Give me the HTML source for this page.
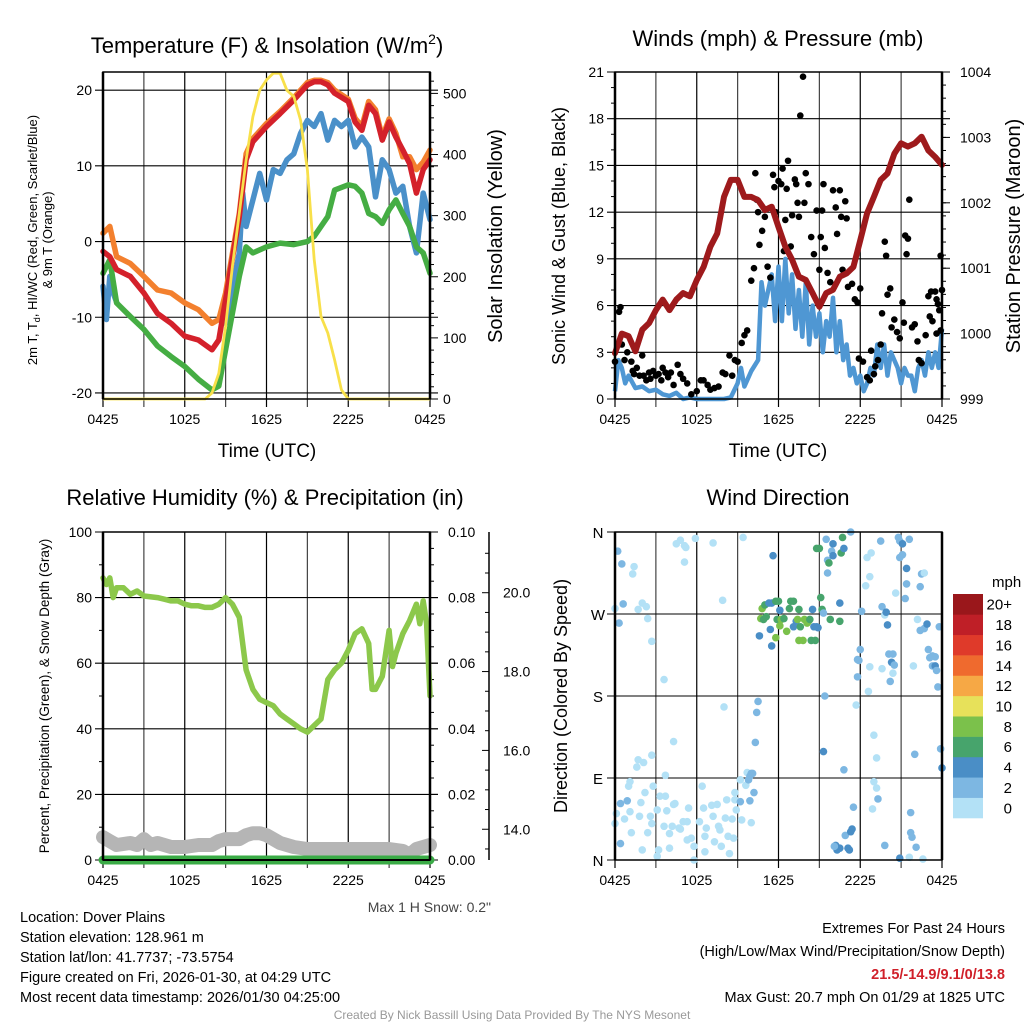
<!DOCTYPE html>
<html><head><meta charset="utf-8"><style>
html,body{margin:0;padding:0;background:#fff;}
svg{display:block;font-family:"Liberation Sans",Arial,sans-serif;}
</style></head><body>
<svg id="chart" width="1024" height="1024" viewBox="0 0 1024 1024" xmlns="http://www.w3.org/2000/svg">
<rect width="1024" height="1024" fill="#fff"/>
<g id="g1"></g>
<g id="g2"></g>
<g id="g3"></g>
<g id="g4"></g>
<text x="267" y="53" font-size="22" text-anchor="middle">Temperature (F) &amp; Insolation (W/m<tspan font-size="14" dy="-9">2</tspan><tspan dy="9">)</tspan></text>
<text x="778" y="46" font-size="22" text-anchor="middle">Winds (mph) &amp; Pressure (mb)</text>
<text x="265" y="505" font-size="22" text-anchor="middle">Relative Humidity (%) &amp; Precipitation (in)</text>
<text x="778" y="505" font-size="22" text-anchor="middle">Wind Direction</text>
<text x="267" y="457" font-size="19" text-anchor="middle">Time (UTC)</text>
<text x="778" y="457" font-size="19" text-anchor="middle">Time (UTC)</text>
<text transform="translate(37,240) rotate(-90)" font-size="13" text-anchor="middle">2m T, T<tspan font-size="9" dy="3">d</tspan><tspan dy="-3">, HI/WC (Red, Green, Scarlet/Blue)</tspan></text>
<text transform="translate(52,240) rotate(-90)" font-size="13" text-anchor="middle">&amp; 9m T (Orange)</text>
<text transform="translate(502,236) rotate(-90)" font-size="20" text-anchor="middle">Solar Insolation (Yellow)</text>
<text transform="translate(565,236) rotate(-90)" font-size="18" text-anchor="middle">Sonic Wind &amp; Gust (Blue, Black)</text>
<text transform="translate(1020,236) rotate(-90)" font-size="20" text-anchor="middle">Station Pressure (Maroon)</text>
<text transform="translate(49,696) rotate(-90)" font-size="13.5" text-anchor="middle">Percent, Precipitation (Green), &amp; Snow Depth (Gray)</text>
<text transform="translate(567,696) rotate(-90)" font-size="18" text-anchor="middle">Direction (Colored By Speed)</text>
<text x="491" y="912" font-size="14" fill="#444" text-anchor="end">Max 1 H Snow: 0.2"</text>
<g font-size="14.5">
<text x="20" y="922">Location: Dover Plains</text>
<text x="20" y="942">Station elevation: 128.961 m</text>
<text x="20" y="962">Station lat/lon: 41.7737; -73.5754</text>
<text x="20" y="982">Figure created on Fri, 2026-01-30, at 04:29 UTC</text>
<text x="20" y="1002">Most recent data timestamp: 2026/01/30 04:25:00</text>
</g>
<g font-size="14.5" text-anchor="end">
<text x="1005" y="933">Extremes For Past 24 Hours</text>
<text x="1005" y="956">(High/Low/Max Wind/Precipitation/Snow Depth)</text>
<text x="1005" y="979" fill="#d0202a" font-weight="bold">21.5/-14.9/9.1/0/13.8</text>
<text x="1005" y="1002">Max Gust: 20.7 mph On 01/29 at 1825 UTC</text>
</g>
<text x="512" y="1019" font-size="12" fill="#999" text-anchor="middle">Created By Nick Bassill Using Data Provided By The NYS Mesonet</text>
</svg>
<script>
// ---- data ----
const xTickLabels = ["0425","1025","1625","2225","0425"];
const tempT = [0,0.5,1,2,3,4,5,6,7,8,8.5,9,10,10.5,11,12,13,14,15,15.5,16,16.5,17,18,18.5,19,19.5,20,20.5,21,21.5,22,22.5,23,23.5,24];
const tempRed = [-1.3,-2,-3.7,-4.6,-6.8,-9.5,-10.8,-12.5,-13,-14.3,-13,-7.7,3.3,10.8,13.2,15.2,16.9,18.7,20.7,21.1,21.1,20.7,19.6,18.5,15.8,14.7,18,16.9,13.4,15.8,13.8,12.1,10.3,6.4,9.5,10.8];
const tempOrange = [1.1,2,-2,-2.9,-4.6,-6.4,-6.8,-8.1,-9,-10.8,-10.3,-6.8,3.7,11.6,13.6,15.6,17.2,19,21,21.3,21.3,21,20,18.8,16.3,15.2,18.5,17.4,13.8,16.2,14.3,11.2,11.2,9.5,10.5,12.1];
const dewGreen = [-4.2,-2.4,-8.1,-9.9,-11.6,-13.8,-15.2,-16.5,-18.2,-19.6,-19.1,-14.3,-4.6,-0.7,-1.5,-0.7,-0.2,-0.4,0,0.7,2,3.3,6.8,7.5,7.3,6.4,3.7,3.3,2.4,4.2,5.5,3.7,2,-0.7,-1.5,-4.2];
const wcT = [0,0.25,0.5,0.75,1,5,9,10,10.25,10.5,11,11.5,12,12.5,13,13.5,14,14.5,15,15.5,16,16.5,17,17.5,18,18.5,19,19.5,20,20.5,21,21.5,22,22.5,23,23.5,24];
const wcBlue = [-5.9,-10.3,-4.6,-6.8,-8,null,-10.8,-1.5,6.4,2,5.5,9,5.5,9.5,9,10.8,11.6,14.3,16,15.2,16.9,13.4,16,15.2,16,12.5,13.8,12.5,5.9,10.8,9.5,6.4,7.3,2,-1.5,6.4,2.9];
const solarT = [0,7.5,8,8.5,9,9.5,10,10.5,11,11.5,12,12.5,13,13.5,14,14.5,15,15.5,16,16.5,17,17.5,18,24];
const solarVals = [0,0,10,42,119,217,304,391,462,505,522,533,533,505,495,456,375,228,135,108,64,15,0,0];
const tempTicks = [-20,-10,0,10,20];
const solarTicks = [0,100,200,300,400,500];

const presT = [0,0.5,1,1.5,2,2.5,3,3.5,4,4.5,5,5.5,6,6.5,7,7.5,8,8.5,9,9.5,10,10.5,11,11.5,12,12.5,13,13.5,14,14.5,15,15.5,16,16.5,17,17.5,18,18.5,19,19.5,20,20.5,21,21.5,22,22.5,23,23.5,24];
const presVals = [999.70,1000.0,999.96,999.73,1000.06,1000.16,1000.36,1000.52,1000.36,1000.52,1000.62,1000.57,1000.82,1001.02,1001.33,1001.53,1002.09,1002.35,1002.35,1002.09,1002.09,1002.04,1001.89,1001.94,1001.63,1001.33,1001.13,1000.87,1000.82,1000.62,1000.41,1000.62,1000.67,1000.87,1000.92,1001.02,1001.43,1001.84,1002.09,1002.35,1002.45,1002.75,1002.91,1002.86,1002.91,1003.01,1002.80,1002.70,1002.58];
const windT = [0,0.25,0.5,0.75,1,1.5,2,2.5,3,3.5,4,4.5,5,5.5,6,6.5,7,7.5,8,8.5,9,9.25,9.5,10,10.5,10.75,11,11.5,11.75,12,12.25,12.5,12.75,13,13.25,13.5,13.75,14,14.25,14.5,14.75,15,15.25,15.5,15.75,16,16.25,16.5,16.75,17,17.25,17.5,17.75,18,18.25,18.5,18.75,19,19.25,19.5,19.75,20,20.25,20.5,20.75,21,21.25,21.5,21.75,22,22.25,22.5,22.75,23,23.25,23.5,23.75,24];
const windVals = [0.5,2.5,2,1,1.5,0.7,0.8,0.5,0.6,0.3,0.2,0.4,0,0.1,0,0,0,0,0,0.1,1,2,0.8,1.8,2.5,7.5,6,8,5,8.5,5,9,5.5,8,4.5,7,4,7.5,3.5,6,4,5.5,3,5,4,6.5,3,5,2.5,3.5,1.5,2,1,1.5,0.5,1,2,1.5,3.5,2,3.5,1.5,3,2.5,2,1,2,1.5,1.5,0.5,2,2.5,1.5,3,2,3,2,4.5];
const gustT = [0,0.3,0.4,0.5,0.7,0.9,1.2,1.3,1.4,1.6,1.8,2,2.1,2.3,2.5,2.6,2.8,3,3.2,3.4,3.5,3.7,3.9,4.1,4.3,4.6,4.8,5,5.3,5.6,6,6.3,6.5,6.8,7,7.3,7.6,7.9,8.1,8.4,8.6,8.8,9,9.3,9.5,9.7,10,10.2,10.3,10.4,10.5,10.6,10.8,11,11.2,11.4,11.6,11.7,11.8,12,12.2,12.3,12.4,12.5,12.6,12.7,12.9,13,13.2,13.3,13.4,13.5,13.6,13.8,13.9,14,14.2,14.4,14.6,14.8,15,15.1,15.2,15.3,15.4,15.6,15.8,16,16.2,16.3,16.5,16.6,16.7,16.9,17,17.1,17.4,17.6,17.8,18,17.9,18.2,18.5,18.7,18.8,19,19.1,19.3,19.5,19.6,19.8,19.9,20,20.2,20.3,20.5,20.7,20.9,21.1,21.2,21.3,21.4,21.5,21.6,21.8,22,22.2,22.3,22.5,22.8,23,23.1,23.2,23.3,23.5,23.6,23.7,23.8,23.9,24,23.6,23.9];
const gustVals = [2.4,5.6,5.9,3.5,2.5,3,2.4,1.8,1.6,2,1.5,2.8,1.5,1.2,1.7,1.3,1.8,1.5,1.6,1.2,2,1.7,1.4,1.7,0.9,2.2,1.6,1.3,1,0.3,0.5,1.2,1.2,0.9,0.6,0.7,0.8,1.7,1.6,2.8,1.5,2.5,2.4,3.6,4.1,4.4,7.6,8.4,14.5,12.8,12,9.9,10.8,11.7,8.5,7.8,14.4,13.6,12,14,13.8,14.8,9.5,11.5,13.5,15.3,9.8,11.8,14.1,13.8,12.6,11.7,18.2,20.7,12.6,14.5,13.8,10.4,9.3,12.1,8.3,10.4,12.1,13.8,9.7,8.1,7.5,13.4,12.3,10.6,13.4,11.7,8.3,12.7,11.6,7.2,7.4,6.4,6.2,7.1,2.6,2.4,1.4,1.2,3.1,1.6,2.1,2.5,3.5,5.5,10.1,9.2,6.7,7.1,4.6,5.1,4.3,3.9,6.2,4.9,10.5,9.3,10.3,12.8,4.6,4.8,3.7,2.5,2.3,4.1,6.6,5.3,6.9,5,6.9,6.4,6.1,5.7,9.2,7,4.2,4.4];
const windTicks = [0,3,6,9,12,15,18,21];
const presTicks = [999,1000,1001,1002,1003,1004];

const rhT = [0,0.25,0.5,0.75,1,1.5,2,2.5,3,4,4.5,5,5.5,6,6.5,7,7.5,8,8.5,9,9.5,10,10.5,11,11.5,12,12.5,13,13.5,14,14.5,15,15.5,16,16.5,17,17.5,18,18.5,19,19.5,19.75,20,20.5,21,21.25,21.5,22,22.5,23,23.25,23.5,23.75,24];
const rhVals = [86,84,86,80,83,83,81,82,80.5,80,79.5,79,79,78,77.5,77.5,77,77,78,80,78,74,58,52,49,48,47,44.5,43,41.5,40,39,41,43,55,58,60,64,69,70.5,66,52,52,56,70,59,63,69,73,78,72,79,72,50];
const snowT = [0,0.5,1,2,2.5,3,3.5,4,5,6,7,8,8.5,9,10,10.5,11,11.5,12,13,14,15,21,22,22.5,23,24];
const snowVals = [13.8,13.7,13.6,13.65,13.6,13.75,13.6,13.65,13.55,13.55,13.6,13.6,13.7,13.75,13.75,13.85,13.9,13.9,13.85,13.65,13.55,13.5,13.5,13.45,13.35,13.5,13.6];
const precipT = [0,24];
const precipVals = [0,0];
const rhTicks = [0,20,40,60,80,100];
const precipTicks = ["0.00","0.02","0.04","0.06","0.08","0.10"];
const snowTicks = [14,16,18,20];

const dirT = [0.1,0,0.4,0.4,0.9,0.7,1.1,1,1.1,1.2,1.8,1.9,2,2.2,2.4,2.6,2.7,2.8,3.1,3.2,3.1,3.3,3.6,3.7,3.8,4,4,4.3,4.4,4.2,4.7,4.8,5,5.3,5.4,5.3,5.6,5.8,5.8,6.2,6.4,6.5,6.6,6.7,6.6,7.1,7.2,7.3,7.5,7.6,7.7,7.8,8.1,8.2,8.3,8.4,8.6,8.7,8.8,8.8,8.9,9.2,9.3,9.6,9.7,9.9,10,10,1.7,1.6,2.1,2.7,3.7,4.3,8,3.6,2.7,2.4,1.7,2,2.3,0,0.3,0.6,0.5,0.2,1.3,1.4,4.5,4.8,5.1,5.2,5.1,5.9,7.2,7.9,9.4,9.2,9.9,10.2,
10.6,10.5,10.4,10.3,10.1,9.8,11.6,10.8,11,11.3,11.5,11.8,12,12.1,10.7,10.9,11.1,11.4,11.5,11.8,11.9,12.1,12.2,12.4,12.6,12.8,12.9,13.1,13.1,13.3,13.4,13.5,13.6,13.5,13.8,13.9,14.1,14.2,14.3,14.4,14.5,14.6,14.7,14.8,14.9,15.1,15.2,15.3,15.8,16.5,16.5,14.8,15,15.5,15.6,15.7,15.9,16,16,16.6,16.7,16.8,17.3,15.6,15.4,15.3,16.8,17.5,16.9,17.1,17.2,17.3,17.4,16.2,16.3,16.5,16.1,17.7,17.8,17.8,17.9,18,18.1,18.4,18.7,18.5,18.8,18.7,18.6,19,19.2,19,19.2,19.3,18.9,19.5,19.6,19.8,19.9,20,20.1,20.3,20.4,20.5,20.4,20.2,19.6,19.8,20.6,20.8,20.9,21.1,21.1,20.9,21.4,21.4,21.3,21.6,20.9,21.6,21.7,21.7,21.8,22.1,22.6,22.2,22.4,22.7,22.9,22.5,22.7,22.4,21.9,22,23,23.1,23.3,23.3,23.5,23.6,23.5,23.7,23.8,23.9,24];
const dirDeg = [51,40,62,18,65,45,53,81,86,30,48,63,11,74,30,48,40,81,55,11,4,70,37,70,54,29,13,61,62,37,35,34,42,42,57,22,24,0,15,42,81,57,26,35,9,60,48,20,61,37,33,15,46,66,26,7,45,24,74,66,55,88,44,82,96,92,41,95,110,102,107,115,93,130,168,198,240,265,275,282,278,276,260,281,325,339,314,322,347,351,345,343,327,353,348,285,354,64,65,74,
246,174,162,129,95,88,334,276,280,282,282,284,284,274,265,264,267,253,235,244,264,257,264,265,251,276,284,284,256,262,264,275,256,241,241,264,260,262,264,241,275,256,241,256,255,288,275,271,264,262,282,342,342,352,329,326,339,347,334,337,354,342,360,315,180,119,99,58,27,13,11,31,34,16,11,13,15,170,201,220,219,231,273,301,311,332,337,212,185,137,112,86,79,67,56,350,278,269,272,258,226,217,226,214,205,196,210,16,293,354,350,347,335,332,320,303,287,352,2,3,52,30,25,14,1,264,252,254,259,314,315,300,213,116,231,222,224,213,213,208,223,190,256,122,101];
const dirSpd = [1,1,3,3,3,1,1,1,1,1,1,1,1,1,1,1,1,1,1,1,1,1,1,1,1,1,1,1,1,1,1,1,1,1,1,1,1,1,1,1,1,1,1,1,1,1,1,1,1,1,1,1,1,1,1,1,1,1,1,1,1,1,1,1,1,3,1,3,1,1,1,1,1,1,1,1,1,1,1,1,1,1,3,3,3,3,1,1,1,1,1,1,1,1,1,1,1,3,3,3,
4,3,3,3,3,3,5,8,7,5,5,7,6,4,8,7,7,5,5,9,6,8,9,6,9,7,6,6,4,4,9,7,6,8,8,8,9,8,7,6,5,5,7,4,5,6,6,3,6,6,5,6,7,3,3,6,3,4,4,6,7,4,2,2,2,4,3,3,3,4,4,4,4,4,4,4,3,1,3,2,3,3,2,1,1,1,1,1,1,1,1,1,1,3,1,2,3,1,4,4,2,4,2,3,1,2,1,3,1,2,2,4,2,2,4,3,3,2,4,1,3,3,2,3,1,1,2,2,4,2,1,2,1,3,3,3,2,3,4,3,3,3,3,3,4];
const speedBins = ["0","2","4","6","8","10","12","14","16","18","20+"];
const speedColors = ["#b3e1f6","#7db7e2","#4a8ec6","#47a46c","#7bc14b","#e7e15a","#f6a845","#ef6a2e","#df3a2a","#bf1f27","#9a171b"];
const dirLabels = ["N","E","S","W","N"];

// ---- helpers ----
const NS="http://www.w3.org/2000/svg";
function mk(parent,tag,attrs){const e=document.createElementNS(NS,tag);for(const k in attrs)e.setAttribute(k,attrs[k]);parent.appendChild(e);return e;}
function makeX(x0,x1){return t=>x0+(x1-x0)*t/24;}
function makeY(y0,y1,vTop,vBot){return v=>y0+(y1-y0)*(vTop-v)/(vTop-vBot);}
function pathD(ts,vs,xf,yf){let d="",pen=false;for(let i=0;i<ts.length;i++){if(vs[i]===null||vs[i]===undefined){pen=false;continue;}d+=(pen?"L":"M")+xf(ts[i]).toFixed(1)+","+yf(vs[i]).toFixed(1);pen=true;}return d;}
function frame(g,x0,x1,y0,y1,xf){
  for(let i=0;i<=8;i++){const x=xf(i*3);
    const l=mk(g,"line",{x1:x,x2:x,y1:y0,y2:y1+8,stroke:i%2?"#444":"#000","stroke-width":1.2});
    
    
  }
  xTickLabels.forEach((s,i)=>{const t=mk(g,"text",{x:xf(i*6),y:y1+25,"font-size":14,"text-anchor":"middle"});t.textContent=s;
    
    });
}
function border(g,x0,x1,y0,y1){
  const r=mk(g,"rect",{x:x0,y:y0,width:x1-x0,height:y1-y0,fill:"none",stroke:"#000","stroke-width":1.5});
  
  
  mk(g,"line",{x1:x0,x2:x0,y1:y0,y2:y1,stroke:"#000","stroke-width":2.5});
  mk(g,"line",{x1:x1,x2:x1,y1:y0,y2:y1,stroke:"#000","stroke-width":2.5});
}
function hgrid(g,x0,x1,y,labelL,labelR,name){
  const l=mk(g,"line",{x1:x0-8,x2:x1+8,y1:y,y2:y,stroke:"#000","stroke-width":1.1});
  
  
  if(labelL!==null){const t=mk(g,"text",{x:x0-11,y:y+5,"font-size":14,"text-anchor":"end"});t.textContent=labelL;
    
    }
}
function rlabel(g,x,y,s,fs){const t=mk(g,"text",{x:x,y:y+5,"font-size":fs||14});t.textContent=s;
  
  }
function rtick(g,x,y,len){mk(g,"line",{x1:x,x2:x+len,y1:y,y2:y,stroke:"#000","stroke-width":1});}

// ---- panel 1 ----
(function(){
  const g=document.getElementById("g1"),x0=103,x1=430,y0=72,y1=399;
  const xf=makeX(x0,x1), yT=makeY(y0,y1,22.4,-20.8), yS=makeY(y0,y1,535,0);
  frame(g,x0,x1,y0,y1,xf);
  tempTicks.forEach(v=>hgrid(g,x0,x1,yT(v),String(v),null,'temp-gridline'));
  solarTicks.forEach(v=>{rtick(g,x1,yS(v),8);rlabel(g,x1+13,yS(v),String(v));});
  for(let v=20;v<=520;v+=20){if(v%100)rtick(g,x1,yS(v),4);}
  const series=[[wcT,wcBlue,"#4a90c9",'wind-chill-line'],[tempT,dewGreen,"#45ad43",'dewpoint-line'],[tempT,tempOrange,"#f3802e",'temp-9m-line'],[tempT,tempRed,"#d4212b",'temp-2m-line']];
  series.forEach(s=>{const p=mk(g,"path",{d:pathD(s[0],s[1],xf,yT),fill:"none",stroke:s[2],"stroke-width":5.5,"stroke-linejoin":"round","stroke-linecap":"round"});
    
    });
  const sp=mk(g,"path",{d:pathD(solarT,solarVals,xf,yS),fill:"none",stroke:"#f8e04a","stroke-width":2.8,"stroke-linejoin":"round"});
  
  
  border(g,x0,x1,y0,y1);
})();

// ---- panel 2 ----
(function(){
  const g=document.getElementById("g2"),x0=615,x1=942,y0=72,y1=399;
  const xf=makeX(x0,x1), yW=makeY(y0,y1,21,0), yP=makeY(y0,y1,1004,999);
  frame(g,x0,x1,y0,y1,xf);
  windTicks.forEach(v=>hgrid(g,x0,x1,yW(v),String(v),null,'wind-gridline'));
  for(let v=1;v<21;v++){if(v%3)mk(g,"line",{x1:x0-4,x2:x0,y1:yW(v),y2:yW(v),stroke:"#000"});}
  presTicks.forEach(v=>{rtick(g,x1,yP(v),8);rlabel(g,x1+18,yP(v),String(v));});
  for(let v=999.2;v<1004;v+=0.2){rtick(g,x1,yP(v),4);}
  const wp=mk(g,"path",{d:pathD(windT,windVals,xf,yW),fill:"none",stroke:"#4f97d3","stroke-width":4.5,"stroke-linejoin":"round"});
  
  
  gustT.forEach((t,i)=>{const c=mk(g,"circle",{cx:xf(t),cy:yW(gustVals[i]),r:3.3,fill:"#000"});
    
    });
  const pp=mk(g,"path",{d:pathD(presT,presVals,xf,yP),fill:"none",stroke:"#9e1a1c","stroke-width":6,"stroke-linejoin":"round","stroke-linecap":"round"});
  
  
  border(g,x0,x1,y0,y1);
})();

// ---- panel 3 ----
(function(){
  const g=document.getElementById("g3"),x0=103,x1=430,y0=532,y1=860;
  const xf=makeX(x0,x1), yR=makeY(y0,y1,100,0), ySn=makeY(y0,y1,21.54,13.22);
  frame(g,x0,x1,y0,y1,xf);
  rhTicks.forEach((v,i)=>{hgrid(g,x0,x1,yR(v),String(v),null,'rh-gridline');rtick(g,x1,yR(v),8);rlabel(g,x1+18,yR(v),precipTicks[i]);});
  for(let v=10;v<100;v+=20){mk(g,"line",{x1:x0-4,x2:x0,y1:yR(v),y2:yR(v),stroke:"#000"});}
  for(let v=5;v<100;v+=5){if(v%20)rtick(g,x1,yR(v),4);}
  const sa=mk(g,"line",{x1:489,x2:489,y1:y0,y2:y1,stroke:"#000","stroke-width":1.5});
  
  
  snowTicks.forEach(v=>{mk(g,"line",{x1:482,x2:489,y1:ySn(v),y2:ySn(v),stroke:"#000"});rlabel(g,503,ySn(v),v.toFixed(1));});
  for(let v=13.5;v<21.5;v+=0.5){if(v%2)mk(g,"line",{x1:485,x2:489,y1:ySn(v),y2:ySn(v),stroke:"#000"});}
  const sp=mk(g,"path",{d:pathD(snowT,snowVals,xf,ySn),fill:"none",stroke:"#b5b5b5","stroke-width":14,"stroke-linejoin":"round","stroke-linecap":"round"});
  
  
  const pr=mk(g,"path",{d:pathD(precipT,precipVals,xf,yR),fill:"none",stroke:"#3aab46","stroke-width":9,"stroke-linecap":"round"});
  
  
  const rh=mk(g,"path",{d:pathD(rhT,rhVals,xf,yR),fill:"none",stroke:"#8cc84b","stroke-width":5.5,"stroke-linejoin":"round","stroke-linecap":"round"});
  
  
  border(g,x0,x1,y0,y1);
  mk(g,"line",{x1:x0,x2:x1,y1:y1,y2:y1,stroke:"#000","stroke-width":2});
})();

// ---- panel 4 ----
(function(){
  const g=document.getElementById("g4"),x0=615,x1=942,y0=532,y1=860;
  const xf=makeX(x0,x1), yD=makeY(y0,y1,360,0);
  frame(g,x0,x1,y0,y1,xf);
  dirLabels.forEach((s,i)=>{const y=yD(i*90);mk(g,"line",{x1:x0-8,x2:x1,y1:y,y2:y,stroke:"#000","stroke-width":1.1});
    const t=mk(g,"text",{x:x0-17,y:y+6,"font-size":15,"text-anchor":"middle"});t.textContent=s;
    
    });
  dirT.forEach((t,i)=>{const b=Math.min(10,Math.floor(dirSpd[i]/2));
    const c=mk(g,"circle",{cx:xf(t),cy:yD(dirDeg[i]),r:3.8,fill:speedColors[b]});
    
    });
  border(g,x0,x1,y0,y1);
  const cb=mk(g,"g",{});
  
  
  const bh=(818-594)/11;
  speedBins.forEach((s,i)=>{const y=818-(i+1)*bh;
    const r=mk(cb,"rect",{x:953,y:y,width:30,height:bh+0.3,fill:speedColors[i]});
    
    
    const t=mk(cb,"text",{x:1012,y:y+bh/2+5.5,"font-size":15,"text-anchor":"end"});t.textContent=s;
    
    });
  const m=mk(cb,"text",{x:992,y:587,"font-size":15});m.textContent="mph";
  
  
})();
</script>
</body></html>
